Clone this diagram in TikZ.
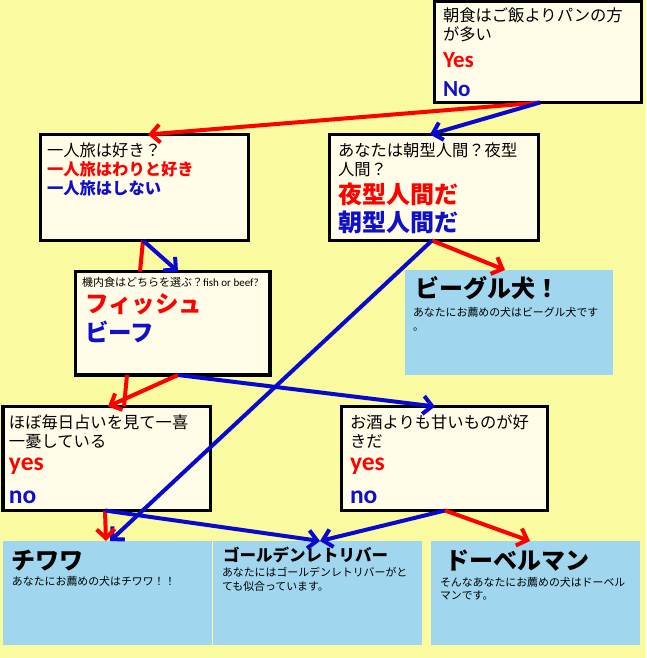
\documentclass[tikz,border=0pt]{standalone}
\usepackage{fontspec}
\setmainfont{Noto Sans CJK JP}
\newfontfamily\latinfont{Carlito}
\usetikzlibrary{arrows.meta,calc}

\definecolor{bgyellow}{RGB}{250,250,160}
\definecolor{ivory}{RGB}{255,253,232}
\definecolor{dogblue}{RGB}{160,215,238}
\definecolor{ansred}{RGB}{255,0,0}
\definecolor{ansblue}{RGB}{16,16,200}
\definecolor{linkblue}{RGB}{8,8,208}

\newcommand\fsz[1]{\fontsize{#1pt}{#1pt}\selectfont}

\tikzset{
  qbox/.style={draw=black, line width=3.5pt, fill=ivory, inner sep=0pt, outer sep=0pt, anchor=north west},
  dogbox/.style={fill=dogblue, inner sep=0pt, outer sep=0pt, anchor=north west},
  txt/.style={anchor=base west, inner sep=0pt, outer sep=0pt},
  qtext/.style={txt, font=\fsz{16.3}},
  redans/.style={txt, text=ansred, font=\fsz{16.3}\bfseries},
  blueans/.style={txt, text=ansblue, font=\fsz{16.3}\bfseries},
  latinans/.style={txt, font=\latinfont\bfseries\fsz{#1}},
  dogtitle/.style={txt, font=\fsz{24}\bfseries},
  dognote/.style={txt, font=\fsz{10.9}},
  link/.style={line width=4pt, -{Straight Barb[length=9pt,width=18pt]}},
  plain link/.style={line width=4pt},
  yeslink/.style={link, draw=ansred},
  nolink/.style={link, draw=linkblue},
}

\begin{document}
\begin{tikzpicture}[x=1pt,y=-1pt]
  % page background
  \fill[bgyellow] (0,0) rectangle (646,658);
  \useasboundingbox (0,0) rectangle (646,658);

  % question boxes
  \node[qbox, minimum width=207pt, minimum height=101pt]   (q1) at (434.5,1.5) {};
  \node[qbox, minimum width=208pt, minimum height=106pt]   (q2) at (40.5,134.5) {};
  \node[qbox, minimum width=209pt, minimum height=106pt]   (q3) at (329.5,134.5) {};
  \node[qbox, minimum width=194.5pt, minimum height=103.5pt] (q4) at (75.5,271.5) {};
  \node[qbox, minimum width=207.5pt, minimum height=104pt] (q6) at (3,406.5) {};
  \node[qbox, minimum width=206pt, minimum height=104pt]   (q7) at (341.5,406.5) {};

  % result boxes
  \node[dogbox, minimum width=208pt, minimum height=105pt] (beagle) at (405,270) {};
  \node[dogbox, minimum width=209pt, minimum height=104pt] (chi)    at (3,541) {};
  \node[dogbox, minimum width=209pt, minimum height=104pt] (gold)   at (213,541) {};
  \node[dogbox, minimum width=209pt, minimum height=104pt] (dob)    at (431,541) {};

  % question 1
  \node[qtext] (q1a) at (443,21.5) {朝食はご飯よりパンの方};
  \node[qtext] (q1b) at (443,41) {が多い};
  \node[latinans=23, text=ansred]  (q1y) at (443,68) {Yes};
  \node[latinans=23, text=ansblue] (q1n) at (443,97) {No};

  % question 2
  \node[qtext]   (q2a) at (47,156) {一人旅は好き？};
  \node[redans]  (q2y) at (47,175.5) {一人旅はわりと好き};
  \node[blueans] (q2n) at (47,194.5) {一人旅はしない};

  % question 3
  \node[qtext] (q3a) at (338,156) {あなたは朝型人間？夜型};
  \node[qtext] (q3b) at (338,175) {人間？};
  \node[txt, text=ansred,  font=\fsz{24}\bfseries] (q3y) at (338,203) {夜型人間だ};
  \node[txt, text=ansblue, font=\fsz{24}\bfseries] (q3n) at (338,231) {朝型人間だ};

  % question 4
  \node[txt, font=\fsz{11}] (q4a) at (82,286) {機内食はどちらを選ぶ？{\latinfont fish or beef?}};
  \node[txt, text=ansred,  font=\fsz{23.5}\bfseries] (q4y) at (85,312) {フィッシュ};
  \node[txt, text=ansblue, font=\fsz{23.5}\bfseries] (q4n) at (85,341) {ビーフ};

  % question 6
  \node[qtext] (q6a) at (9,428) {ほぼ毎日占いを見て一喜};
  \node[qtext] (q6b) at (9,447) {一憂している};
  \node[latinans=25.5, text=ansred]  (q6y) at (9,470.5) {yes};
  \node[latinans=25.5, text=ansblue] (q6n) at (9,503) {no};

  % question 7
  \node[qtext] (q7a) at (350,428) {お酒よりも甘いものが好};
  \node[qtext] (q7b) at (350,447) {きだ};
  \node[latinans=25.5, text=ansred]  (q7y) at (350,470.5) {yes};
  \node[latinans=25.5, text=ansblue] (q7n) at (350,503) {no};

  % results
  \node[dogtitle] (beaglet) at (415,297) {ビーグル犬！};
  \node[dognote]  (beaglea) at (413,316) {あなたにお薦めの犬はビーグル犬です};
  \node[dognote]  (beagleb) at (413,330) {。};

  \node[dogtitle] (chit) at (12,569) {チワワ};
  \node[dognote]  (chia) at (12,585.5) {あなたにお薦めの犬はチワワ！！};

  \node[txt, font=\fsz{16.5}\bfseries] (goldt) at (223,561) {ゴールデンレトリバー};
  \node[dognote] (golda) at (222,576) {あなたにはゴールデンレトリバーがと};
  \node[dognote] (goldb) at (222,590) {ても似合っています。};

  \node[dogtitle] (dobt) at (445,569) {ドーベルマン};
  \node[dognote]  (doba) at (440,586) {そんなあなたにお薦めの犬はドーベル};
  \node[dognote]  (dobb) at (440,599) {マンです。};

  % connectors
  \draw[yeslink] ($(q1.south west)+(105.5,0)$) -- ($(q2.north west)+(107.5,0)$);
  \draw[nolink]  ($(q1.south west)+(105.5,0)$) -- ($(q3.north west)+(100.5,0)$);

  \draw[plain link, draw=ansred] ($(q2.south west)+(102.5,0)$) -- ($(q4.north west)+(64.5,0)$);
  \draw[nolink]  ($(q2.south west)+(102.5,0)$) -- ($(q4.north west)+(102.5,0)$);

  \draw[yeslink] ($(q3.south west)+(102.5,0)$) -- ($(beagle.north west)+(100,0)$);
  \draw[nolink]  ($(q3.south west)+(102.5,0)$) -- ($(chi.north west)+(107,0)$);

  \draw[plain link, draw=ansred] ($(q4.south west)+(51.5,0)$) -- ($(q6.north west)+(121,0)$);
  \draw[yeslink] ($(q4.south west)+(102.5,0)$) -- ($(q6.north west)+(105,0)$);
  \draw[nolink]  ($(q4.south west)+(102.5,0)$) -- ($(q7.north west)+(93.5,0)$);

  \draw[yeslink] ($(q6.south west)+(102,0)$) -- ($(chi.north west)+(103,0)$);
  \draw[nolink]  ($(q6.south west)+(102,0)$) -- ($(gold.north west)+(107,0)$);

  \draw[nolink]  ($(q7.south west)+(103.5,0)$) -- ($(gold.north west)+(107,0)$);
  \draw[yeslink] ($(q7.south west)+(103.5,0)$) -- ($(dob.north west)+(99,0)$);
\end{tikzpicture}
\end{document}
